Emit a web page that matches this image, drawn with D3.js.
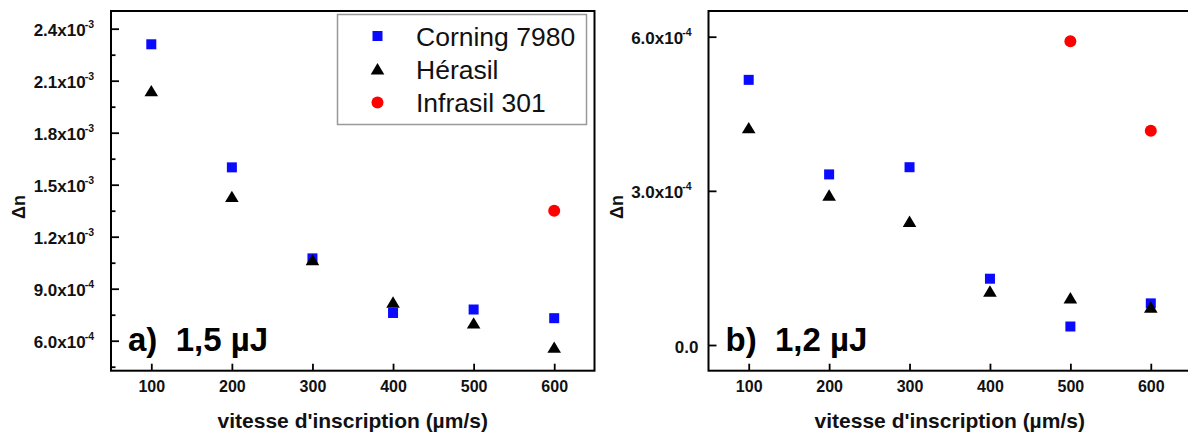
<!DOCTYPE html>
<html>
<head>
<meta charset="utf-8">
<script src="https://cdn.jsdelivr.net/npm/d3@7"></script>
<style>
  html, body { margin: 0; padding: 0; background: #fff; }
  svg { display: block; }
  text { font-family: "Liberation Sans", Arial, sans-serif; }
</style>
</head>
<body>
<svg id="chart" width="1188" height="434"></svg>
<script>
// ---------- data ----------
const speeds = [100, 200, 300, 400, 500, 600];

// panel a) 1,5 µJ
const corningA  = [2.31e-3, 1.60e-3, 1.075e-3, 7.6e-4, 7.8e-4, 7.3e-4];
const herasilA  = [2.04e-3, 1.43e-3, 1.065e-3, 8.2e-4, 7.0e-4, 5.6e-4];
const infrasilA = [null, null, null, null, null, 1.35e-3];

// panel b) 1,2 µJ
const corningB  = [5.16e-4, 3.32e-4, 3.46e-4, 1.29e-4, 3.6e-5, 8.1e-5];
const herasilB  = [4.22e-4, 2.91e-4, 2.40e-4, 1.04e-4, 9.1e-5, 7.3e-5];
const infrasilB = [null, null, null, null, 5.91e-4, 4.17e-4];

const seriesNames = ["Corning 7980", "Hérasil", "Infrasil 301"];
const seriesColors = ["#0a0aff", "#000000", "#ff0000"];

const xTicks = [100, 200, 300, 400, 500, 600];
const yTicksA = [6e-4, 9e-4, 1.2e-3, 1.5e-3, 1.8e-3, 2.1e-3, 2.4e-3];
const yTickBaseA = ["6.0x10", "9.0x10", "1.2x10", "1.5x10", "1.8x10", "2.1x10", "2.4x10"];
const yTickExpA  = ["-4", "-4", "-3", "-3", "-3", "-3", "-3"];
const yMinorA = [4.5e-4, 7.5e-4, 1.05e-3, 1.35e-3, 1.65e-3, 1.95e-3, 2.25e-3];
const yTicksB = [0, 3e-4, 6e-4];
const yTickBaseB = ["0.0", "3.0x10", "6.0x10"];
const yTickExpB  = ["", "-4", "-4"];

const xTitle = "vitesse d'inscription (µm/s)";
const yTitle = "Δn";
const panelLabels = ["a)  1,5 µJ", "b)  1,2 µJ"];

// ---------- layout ----------
const svg = d3.select("#chart");
const plotTop = 11, plotBottom = 370.7;

const panels = [
  { left: 111, right: 594.5, yDomain: [4.27e-4, 2.502e-3],
    series: [corningA, herasilA, infrasilA],
    yTicks: yTicksA, base: yTickBaseA, exp: yTickExpA, minor: yMinorA,
    label: panelLabels[0], legend: true },
  { left: 708.5, right: 1191, yDomain: [-5.0e-5, 6.5e-4],
    series: [corningB, herasilB, infrasilB],
    yTicks: yTicksB, base: yTickBaseB, exp: yTickExpB, minor: [],
    label: panelLabels[1], legend: false }
];

function drawMarker(sel, kind, color) {
  if (kind === 0) {
    sel.append("rect").attr("x", -5).attr("y", -5).attr("width", 10).attr("height", 10)
      .attr("fill", color);
  } else if (kind === 1) {
    sel.append("path").attr("d", "M0,-6.2L6.8,5.2L-6.8,5.2Z").attr("fill", color);
  } else {
    sel.append("circle").attr("r", 6).attr("fill", color);
  }
}

panels.forEach(p => {
  const x = d3.scaleLinear().domain([50, 650]).range([p.left, p.right]);
  const y = d3.scaleLinear().domain(p.yDomain).range([plotBottom, plotTop]);
  const g = svg.append("g");

  // x axis (inward ticks)
  const gx = g.append("g").attr("transform", `translate(0,${plotBottom})`)
    .call(d3.axisBottom(x).tickValues(xTicks).tickSize(-7).tickPadding(10).tickFormat(d3.format("d")));
  gx.select(".domain").remove();
  gx.selectAll("line").attr("stroke", "#000").attr("stroke-width", 1.8);
  gx.selectAll("text").attr("font-size", 16).attr("font-weight", "bold").attr("fill", "#111");

  // y axis major
  const gy = g.append("g").attr("transform", `translate(${p.left},0)`)
    .call(d3.axisLeft(y).tickValues(p.yTicks).tickSize(-8).tickPadding(17).tickFormat(() => ""));
  gy.select(".domain").remove();
  gy.selectAll("line").attr("stroke", "#000").attr("stroke-width", 1.8);
  gy.selectAll("text").each(function(d, i) {
    const t = d3.select(this)
      .attr("font-size", 17).attr("font-weight", "bold").attr("fill", "#111")
      .attr("dy", "0.42em");
    t.append("tspan").text(p.base[i]);
    if (p.exp[i]) {
      t.append("tspan").attr("font-size", 10.5).attr("dy", "-0.8em").attr("dx", -1).text(p.exp[i]);
    } else {
      t.attr("x", -10);
    }
  });

  // y axis minor
  if (p.minor.length) {
    const gm = g.append("g").attr("transform", `translate(${p.left},0)`)
      .call(d3.axisLeft(y).tickValues(p.minor).tickSize(-4.5).tickFormat(""));
    gm.select(".domain").remove();
    gm.selectAll("line").attr("stroke", "#000").attr("stroke-width", 1.8);
  }

  // frame
  g.append("rect").attr("x", p.left).attr("y", plotTop)
    .attr("width", p.right - p.left).attr("height", plotBottom - plotTop)
    .attr("fill", "none").attr("stroke", "#000").attr("stroke-width", 2);

  // data
  p.series.forEach((vals, si) => {
    g.append("g").selectAll("g")
      .data(speeds.map((s, i) => ({ s, v: vals[i] })).filter(d => d.v != null))
      .join("g")
      .attr("transform", d => `translate(${x(d.s)},${y(d.v)})`)
      .each(function() { drawMarker(d3.select(this), si, seriesColors[si]); });
  });

  // panel label
  g.append("text").attr("x", p.left + 17).attr("y", 350.5)
    .attr("font-size", 33).attr("font-weight", "bold").attr("fill", "#000")
    .attr("xml:space", "preserve").style("white-space", "pre")
    .text(p.label);

  // axis titles
  g.append("text").attr("x", (p.left + p.right) / 2).attr("y", 428)
    .attr("text-anchor", "middle").attr("font-size", 21).attr("font-weight", "bold")
    .attr("fill", "#111").text(xTitle);
  g.append("text")
    .attr("transform", `translate(${p.left - 86},207) rotate(-90)`)
    .attr("text-anchor", "middle").attr("font-size", 18).attr("font-weight", "bold")
    .attr("fill", "#111").text(yTitle);

  // legend
  if (p.legend) {
    const lg = g.append("g");
    lg.append("rect").attr("x", 337.5).attr("y", 14.5).attr("width", 249).attr("height", 110)
      .attr("fill", "#fff").attr("stroke", "#999").attr("stroke-width", 1.5);
    seriesNames.forEach((name, i) => {
      const cy = 36 + i * 33.3;
      const m = lg.append("g").attr("transform", `translate(377.5,${cy})`);
      drawMarker(m, i, seriesColors[i]);
      lg.append("text").attr("x", 416).attr("y", cy + 9.7)
        .attr("font-size", 26.5).attr("fill", "#111").text(name);
    });
  }
});
</script>
</body>
</html>
